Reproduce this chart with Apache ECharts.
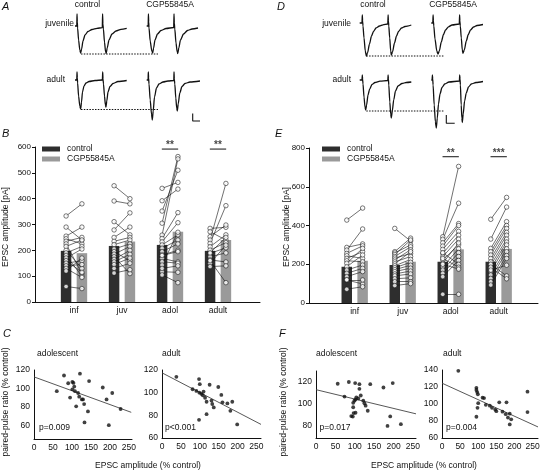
<!DOCTYPE html>
<html><head><meta charset="utf-8">
<script src="https://cdn.jsdelivr.net/npm/echarts@6.0.0/dist/echarts.min.js"></script>
<style>html,body{margin:0;padding:0;background:#fff}#c{width:546px;height:471px}</style>
</head><body><div id="c"></div>
<script>
// ---------------- DATA ----------------
const categories = ['inf', 'juv', 'adol', 'adult'];
const seriesNames = ['control', 'CGP55845A'];

// Panel B (EPSC amplitude, pA)
const B_ctrl_mean = [198, 217, 221, 198];
const B_cgp_mean  = [189, 234, 272, 240];
const B_sig = ['', '', '**', '**'];
const B_ctrl_cells = [
  [333, 290, 255, 245, 235, 225, 215, 200, 190, 180, 170, 160, 150, 140, 130, 120, 60],
  [450, 391, 311, 279, 250, 235, 222, 205, 195, 185, 175, 165, 155, 145, 130, 112],
  [440, 392, 352, 305, 259, 246, 233, 221, 208, 195, 182, 169, 156, 143, 117, 105, 180, 130],
  [285, 272, 253, 240, 227, 214, 201, 188, 175, 163, 150, 137, 160, 190]
];
const B_cgp_cells = [
  [380, 240, 290, 225, 250, 110, 240, 130, 215, 100, 205, 115, 160, 145, 95, 170, 52],
  [400, 380, 260, 345, 290, 250, 240, 225, 160, 215, 110, 200, 185, 170, 150, 125],
  [463, 437, 510, 563, 554, 346, 307, 260, 240, 225, 200, 155, 150, 270, 115, 75, 195, 140],
  [289, 240, 298, 459, 373, 260, 230, 210, 190, 155, 220, 140, 75, 250]
];

// Panel E (EPSC amplitude, pA)
const E_ctrl_mean = [187, 196, 213, 213];
const E_cgp_mean  = [218, 213, 277, 279];
const E_sig = ['', '', '**', '***'];
const E_ctrl_cells = [
  [428, 287, 273, 256, 244, 230, 218, 205, 187, 170, 153, 136, 119, 71, 120],
  [385, 265, 258, 250, 240, 232, 222, 212, 202, 192, 182, 172, 162, 150, 140, 125, 110, 90],
  [342, 329, 311, 294, 277, 256, 239, 222, 205, 187, 170, 153, 136, 45, 260, 230, 200],
  [432, 330, 282, 265, 248, 230, 213, 196, 179, 162, 145, 127, 110, 93, 200, 185, 170]
];
const E_cgp_cells = [
  [490, 305, 382, 295, 230, 265, 213, 282, 248, 196, 179, 162, 98, 84, 119],
  [320, 335, 300, 325, 290, 255, 275, 240, 265, 225, 210, 195, 180, 165, 150, 130, 110, 100],
  [705, 515, 410, 400, 370, 350, 330, 300, 310, 280, 260, 240, 220, 45, 200, 185, 175],
  [545, 495, 420, 400, 385, 365, 350, 330, 315, 300, 280, 265, 245, 230, 140, 125, 195]
];

// Panels C / F: [EPSC amplitude % control, paired-pulse ratio % control]
const C_adol = [[60,97],[79,114],[90,105.6],[95,90],[101,107],[104,106],[106,102],[101,99],[108,97],[111,80.5],[116,95],[119,91],[121,116],[126,88],[132,83],[129,88],[133,63],[142,75],[145,108],[181,101],[191,88],[206,95],[197,60],[228,77.6]];
const C_adult = [[38,114],[81,103],[91,101.5],[98,112],[100,107.5],[99,100],[104,99],[108,97.7],[110,101],[114,95.5],[98,76],[118,92],[118,81],[126,107],[131,93],[133,90],[137,87],[149,105],[157,98],[160,91.5],[173,90.5],[186,92],[181,84],[199,72]];
const F_adol = [[56,118.4],[73.5,106.7],[84.7,120],[101,119],[112,118],[112,113.8],[115.5,107.7],[104,106],[99,103],[96,101],[102,104],[109,105],[122,103],[125,100.6],[128,98.4],[96,97],[97,91.7],[102,92],[91,89],[95,88.5],[133.5,93.8],[140,118],[174,115],[198,119],[191.5,88.6],[184.5,80],[219,81.6]];
const F_adult = [[45,139],[95,119],[95,116.5],[97,114],[99,111.5],[100,101],[98,95.5],[95,85],[112,107.5],[116,107],[121,99],[132,98],[138,95.5],[147,93.5],[150,91.6],[158,102],[167,91],[178,102],[176,88],[182,84],[187,88.6],[191,82],[187,76],[236,114.5],[236,90.5]];
const C_adol_fit  = [[0,112.5],[256,74]];
const C_adult_fit = [[0,117.5],[262,72]];
const F_adol_fit  = [[0,113],[258,91]];
const F_adult_fit = [[0,124.5],[265,73]];
const C_p = ['p=0.009', 'p<0.001'];
const F_p = ['p=0.017', 'p=0.004'];
const scatterXTicks = [0, 50, 100, 150, 200, 250];
const C_adol_yTicks = [60, 80, 100, 120];
const C_adult_yTicks = [60, 80, 100, 120];
const F_adol_yTicks = [80, 100, 120];
const F_adult_yTicks = [60, 80, 100, 120, 140];

// Example traces (time units, current units; baseline = 0)
const A_juv_ctrl = [[5,0],[6.8,0],[7,12],[7.3,4],[7.6,-2],[8.6,-14],[9.8,-24],[10.7,-27],[11.6,-23],[13,-15],[15,-9],[18,-5.5],[22,-3.5],[27,-2.3],[32.3,-1.7],[32.6,12],[32.9,2],[33.4,-3],[34.5,-16],[35.6,-26],[36.2,-27.5],[37.2,-22],[39,-14],[42,-8],[46,-5],[51,-3.3],[56.7,-2.3]];
const A_juv_cgp = [[76.7,0],[78.2,0],[78.4,12],[78.7,4],[79,-2],[80.2,-15],[81.8,-25],[82.7,-27],[83.6,-22],[85,-14],[87.5,-8],[91,-4.5],[96,-2.5],[103.7,-1.5],[104,12],[104.3,3],[104.8,-3],[106,-17],[107.2,-26],[107.8,-27.5],[108.8,-22],[110.5,-14],[113.5,-8],[117.5,-4.5],[122,-3],[128,-2]];
const A_ad_ctrl = [[5,0],[6.8,0],[7,8],[7.3,2],[7.6,-3],[8.6,-16],[9.8,-26],[10.7,-29],[11.5,-22],[12.5,-12],[14,-6],[16,-3],[19,-1.5],[25,-0.5],[32.4,0],[32.7,8],[33,1],[33.5,-4],[34.5,-16],[35.4,-25],[36,-27],[36.8,-21],[38,-12],[40,-6.5],[43,-3.5],[48,-1.5],[56.7,-0.5]];
const A_ad_cgp = [[76.7,0],[78.1,0],[78.3,8],[78.6,2],[79,-4],[80.2,-20],[81.5,-34],[82.3,-40],[83.2,-31],[84.5,-17],[86.5,-8],[89,-4],[93,-2],[98,-1],[103.8,-0.5],[104,8],[104.3,1],[104.8,-4],[105.8,-18],[106.7,-28],[107.3,-31],[108.2,-24],[109.8,-13],[112,-6.5],[115,-3.5],[120,-2],[130,-1]];
const A_juv_ref = [[11,-28],[88,-28]];
const A_ad_ref = [[11,-29.5],[88,-29.5]];
const A_scale = [[122.7,-33.5],[122.7,-41],[130,-41]];

const D_juv_ctrl = [[4.7,0],[7,0],[7.3,8],[7.6,2],[8,-3],[9,-15],[10.3,-28],[11.3,-33],[12.5,-30],[14.5,-21],[16.5,-13],[18.5,-8.5],[21,-5],[24.5,-3],[28,-1.8],[32.8,-1],[33.1,8],[33.4,2],[33.8,-3],[34.7,-15],[35.7,-28],[36.3,-32],[37.5,-29],[39.5,-20],[41.5,-13],[43.5,-8.5],[46.5,-5],[50,-3.5],[56.3,-2]];
const D_juv_cgp = [[76.3,0],[77.8,0],[78.1,8],[78.4,2],[78.8,-3],[80,-16],[81.8,-28],[83,-31],[84.3,-28],[86.3,-19],[88.5,-11.5],[90.5,-7],[93.5,-3.8],[97,-2],[104.3,-1],[104.6,8],[104.9,2],[105.3,-3],[106.3,-15],[107.3,-27],[108,-30.3],[109.3,-27],[111.3,-18],[113.3,-11.5],[115.5,-7],[118.5,-4],[122,-2.5],[128,-1.5]];
const D_ad_ctrl = [[4.7,0],[7,0],[7.3,5],[7.6,1],[8,-4],[9,-17],[10,-27],[10.7,-30],[11.6,-25],[13,-15],[14.7,-9],[17,-4.5],[20,-2.5],[25,-1.2],[32.8,-0.5],[33.1,5],[33.4,1],[33.8,-5],[34.8,-22],[35.7,-34],[36.3,-38],[37.3,-31],[38.7,-20],[40.5,-11],[43,-6],[47,-3.5],[51.3,-2.5],[56.3,-2]];
const D_ad_cgp = [[76.3,0],[77.1,0],[77.4,5],[77.7,1],[78.1,-5],[79.2,-25],[80.4,-42],[81.3,-48],[82.3,-38],[83.5,-24],[85,-14],[87,-7.5],[89.7,-4],[94,-2],[104.4,-1],[104.7,5],[105,1],[105.4,-5],[106.2,-25],[106.9,-38],[107.3,-42.5],[108.2,-34],[109.6,-21],[111.3,-13],[113.5,-7],[116.3,-4],[121,-2.5],[128,-1.5]];
const D_juv_ref = [[11.3,-33],[89.7,-33]];
const D_ad_ref = [[11.3,-31],[89.7,-31]];
const D_scale = [[91.3,-35],[91.3,-43.3],[99.7,-43.3]];

// ---------------- BUILD ----------------
const FONT = '"Liberation Sans", Arial, Helvetica, sans-serif';
const TXT = '#111';
const grid = [], xAxis = [], yAxis = [], series = [], graphic = [];

function addGrid(g) { grid.push(g); return grid.length - 1; }

function hiddenPanel(g, xr, yr) {
  const gi = addGrid(g);
  xAxis.push({gridIndex: gi, type: 'value', min: xr[0], max: xr[1], show: false});
  yAxis.push({gridIndex: gi, type: 'value', min: yr[0], max: yr[1], show: false});
  return gi;
}
function trace(gi, data, opts) {
  series.push(Object.assign({
    type: 'line', xAxisIndex: gi, yAxisIndex: gi, data: data, symbol: 'none',
    smooth: 0.25, smoothMonotone: 'x', silent: true, animation: false,
    lineStyle: {color: '#111', width: 1.3}
  }, opts || {}));
}
function txt(s, x, y, o) {
  o = o || {};
  graphic.push({
    type: 'text', x: x, y: y, rotation: o.rot || 0, silent: true,
    style: {text: s, fill: TXT, align: o.align || 'left', verticalAlign: o.va || 'middle',
            fontFamily: FONT, fontSize: o.size || 8.5, fontStyle: o.italic ? 'italic' : 'normal',
            fontWeight: o.bold ? 'bold' : 'normal'}
  });
}

// Traces A / D
const gAj = hiddenPanel({left: 70, top: 12, width: 135, height: 46}, [0, 135], [-32, 14]);
const gAa = hiddenPanel({left: 70, top: 66, width: 135, height: 58}, [0, 135], [-44, 14]);
const gDj = hiddenPanel({left: 355, top: 10, width: 135, height: 50}, [0, 135], [-37, 13]);
const gDa = hiddenPanel({left: 355, top: 68, width: 135, height: 64}, [0, 135], [-52, 12]);
const dotted = {smooth: false, lineStyle: {color: '#111', width: 1.1, type: [1.5, 1.3]}};
const straight = {smooth: false, lineStyle: {color: '#111', width: 1.1}};
trace(gAj, A_juv_ctrl); trace(gAj, A_juv_cgp); trace(gAj, A_juv_ref, dotted);
trace(gAa, A_ad_ctrl); trace(gAa, A_ad_cgp); trace(gAa, A_ad_ref, dotted); trace(gAa, A_scale, straight);
trace(gDj, D_juv_ctrl); trace(gDj, D_juv_cgp); trace(gDj, D_juv_ref, dotted);
trace(gDa, D_ad_ctrl); trace(gDa, D_ad_cgp); trace(gDa, D_ad_ref, dotted); trace(gDa, D_scale, straight);

// Bar panels B / E
const OFF = 0.165;
function barPanel(g, xr, ymax, yint, mC, mG, cC, cG, sig, sigY) {
  const gi = addGrid(g);
  xAxis.push({gridIndex: gi, type: 'value', min: xr[0], max: xr[1],
    axisLine: {show: true, lineStyle: {color: '#111', width: 1}}, axisTick: {show: false}, splitLine: {show: false},
    axisLabel: {customValues: [1, 2, 3, 4], formatter: v => categories[Math.round(v) - 1],
                fontFamily: FONT, fontSize: 8.5, color: TXT, margin: 4}});
  yAxis.push({gridIndex: gi, type: 'value', min: 0, max: ymax, interval: yint,
    axisLine: {show: true, lineStyle: {color: '#111', width: 1}},
    axisTick: {show: true, length: 3, lineStyle: {color: '#111'}}, splitLine: {show: false},
    axisLabel: {fontFamily: FONT, fontSize: 8, color: TXT, margin: 4}});
  const base = {xAxisIndex: gi, yAxisIndex: gi, silent: true, animation: false};
  series.push(Object.assign({type: 'bar', name: seriesNames[0], barWidth: 10.5, barGap: '-100%', z: 2,
    itemStyle: {color: '#2e2e2e'}, data: mC.map((v, i) => [i + 1 - OFF, v])}, base));
  series.push(Object.assign({type: 'bar', name: seriesNames[1], barWidth: 10.5, barGap: '-100%', z: 2,
    itemStyle: {color: '#9a9a9a'}, data: mG.map((v, i) => [i + 1 + OFF, v])}, base));
  const pairs = [];
  cC.forEach((arr, k) => arr.forEach((v, j) => pairs.push({coords: [[k + 1 - OFF, v], [k + 1 + OFF, cG[k][j]]]})));
  series.push(Object.assign({type: 'lines', coordinateSystem: 'cartesian2d', z: 3,
    lineStyle: {color: '#111', width: 0.6, opacity: 1}, data: pairs}, base));
  const pts = (cells, sign) => {
    const out = [];
    cells.forEach((arr, k) => arr.forEach(v => out.push([k + 1 + sign * OFF, v])));
    return out;
  };
  const ptStyle = {color: '#fff', borderColor: '#111', borderWidth: 0.7};
  series.push(Object.assign({type: 'scatter', name: 'ctrl cells', symbolSize: 4.5, z: 4, itemStyle: ptStyle, data: pts(cC, -1)}, base));
  series.push(Object.assign({type: 'scatter', name: 'cgp cells', symbolSize: 4.5, z: 4, itemStyle: ptStyle, data: pts(cG, 1)}, base));
  sig.forEach((s, k) => {
    if (!s) return;
    series.push(Object.assign({type: 'line', symbol: 'none', z: 4, lineStyle: {color: '#111', width: 1},
      data: [[k + 1 - 0.17, sigY], [k + 1 + 0.17, sigY]]}, base));
    series.push(Object.assign({type: 'scatter', symbolSize: 1, z: 4, itemStyle: {color: 'transparent'},
      label: {show: true, position: 'top', distance: -2, formatter: s, fontFamily: FONT, fontSize: 10, fontWeight: 'bold', color: TXT},
      data: [[k + 1, sigY]]}, base));
  });
}
barPanel({left: 35, top: 147, width: 225, height: 155}, [0.1875, 4.875], 600, 100,
  B_ctrl_mean, B_cgp_mean, B_ctrl_cells, B_cgp_cells, B_sig, 592);
barPanel({left: 309, top: 148, width: 229, height: 155}, [0.048, 4.819], 800, 200,
  E_ctrl_mean, E_cgp_mean, E_ctrl_cells, E_cgp_cells, E_sig, 755);

// Scatter panels C / F
function scatterPanel(g, xmax, yr, yTicks, pts, fit) {
  const gi = addGrid(g);
  xAxis.push({gridIndex: gi, type: 'value', min: 0, max: xmax,
    axisLine: {show: true, lineStyle: {color: '#111', width: 1}}, axisTick: {show: false}, splitLine: {show: false},
    axisLabel: {customValues: scatterXTicks, fontFamily: FONT, fontSize: 8.5, color: TXT, margin: 4}});
  yAxis.push({gridIndex: gi, type: 'value', min: yr[0], max: yr[1],
    axisLine: {show: true, lineStyle: {color: '#111', width: 1}}, axisTick: {show: false}, splitLine: {show: false},
    axisLabel: {customValues: yTicks, fontFamily: FONT, fontSize: 8.5, color: TXT, margin: 4}});
  const base = {xAxisIndex: gi, yAxisIndex: gi, silent: true, animation: false};
  series.push(Object.assign({type: 'line', symbol: 'none', z: 2, lineStyle: {color: '#444', width: 0.9}, data: fit}, base));
  series.push(Object.assign({type: 'scatter', symbolSize: 3.8, z: 3, itemStyle: {color: '#111'}, data: pts}, base));
}
scatterPanel({left: 34, top: 370, width: 98, height: 69}, 258, [45, 120], C_adol_yTicks, C_adol, C_adol_fit);
scatterPanel({left: 162, top: 370, width: 99, height: 68}, 262, [60, 120], C_adult_yTicks, C_adult, C_adult_fit);
scatterPanel({left: 316, top: 371, width: 100, height: 67}, 258, [69, 130], F_adol_yTicks, F_adol, F_adol_fit);
scatterPanel({left: 442, top: 370, width: 96, height: 68}, 265, [60, 140], F_adult_yTicks, F_adult, F_adult_fit);

// Texts
txt('A', 2, 7, {size: 11, italic: true});
txt('D', 277, 7, {size: 11, italic: true});
txt('B', 2, 134, {size: 11, italic: true});
txt('E', 275, 134, {size: 11, italic: true});
txt('C', 3, 334, {size: 11, italic: true});
txt('F', 279, 334, {size: 11, italic: true});
txt('control', 87.5, 5, {align: 'center'});
txt('CGP55845A', 170, 5, {align: 'center'});
txt('control', 373, 5, {align: 'center'});
txt('CGP55845A', 453, 5, {align: 'center'});
txt('juvenile', 74, 24, {align: 'right'});
txt('adult', 65, 80, {align: 'right'});
txt('juvenile', 351, 24, {align: 'right'});
txt('adult', 351, 80, {align: 'right'});
txt('EPSC amplitude [pA]', 6, 227, {align: 'center', rot: Math.PI / 2});
txt('EPSC amplitude [pA]', 287, 227, {align: 'center', rot: Math.PI / 2});
txt('paired-pulse ratio (% control)', 6, 402, {align: 'center', rot: Math.PI / 2});
txt('paired-pulse ratio (% control)', 284, 402, {align: 'center', rot: Math.PI / 2});
txt('EPSC amplitude (% control)', 148, 466, {align: 'center'});
txt('EPSC amplitude (% control)', 424, 466, {align: 'center'});
txt('adolescent', 37, 354);
txt('adult', 162, 354);
txt('adolescent', 316, 354);
txt('adult', 443, 354);
txt(C_p[0], 39, 428);
txt(C_p[1], 165, 428);
txt(F_p[0], 319.5, 428);
txt(F_p[1], 446, 428);

const legendBase = {orient: 'vertical', icon: 'rect', itemWidth: 18, itemHeight: 5, itemGap: 0, padding: 0,
  selectedMode: false, data: seriesNames,
  textStyle: {fontFamily: FONT, fontSize: 8.5, color: TXT, lineHeight: 10, padding: [0, 0, 0, 2]}};
const option = {
  animation: false,
  backgroundColor: '#fff',
  grid: grid, xAxis: xAxis, yAxis: yAxis, series: series, graphic: graphic,
  legend: [Object.assign({left: 42, top: 144}, legendBase), Object.assign({left: 322, top: 144}, legendBase)]
};
const chart = echarts.init(document.getElementById('c'), null, {renderer: 'canvas'});
chart.setOption(option);
</script></body></html>
